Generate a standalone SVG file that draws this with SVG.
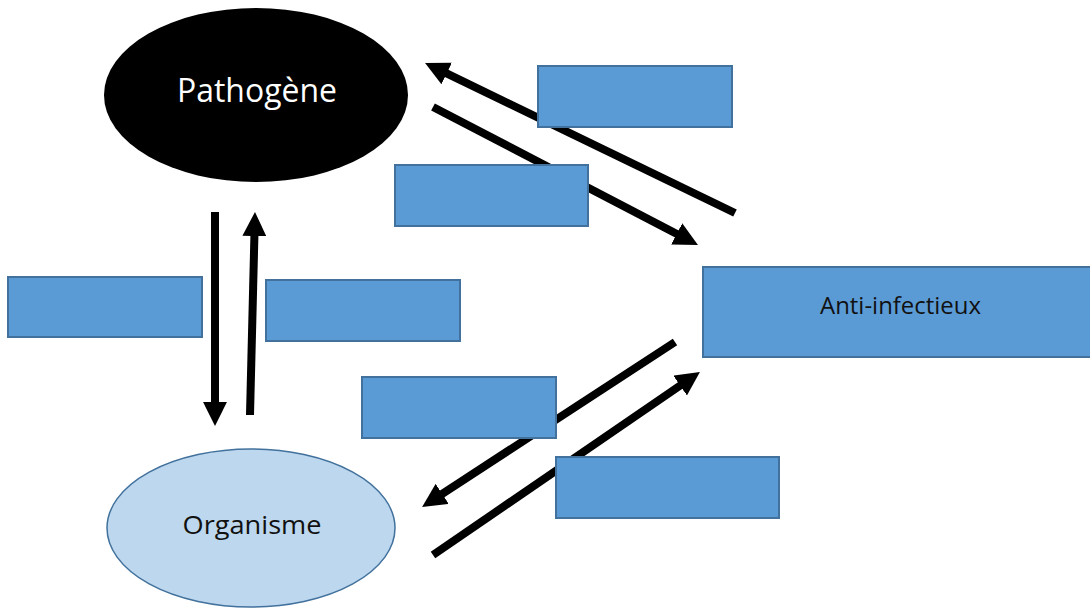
<svg xmlns="http://www.w3.org/2000/svg" width="1090" height="608" viewBox="0 0 1090 608">
<defs>
<marker id="ah" viewBox="0 0 10 10" refX="1.7" refY="5" markerWidth="3" markerHeight="3" orient="auto">
<path d="M0,0 L10,5 L0,10 z" fill="#000"/>
</marker>
</defs>
<style>
.lbl{font-family:"Open Sans","Noto Sans","Liberation Sans",sans-serif;text-anchor:middle}
.box{fill:#5B9BD5;stroke:#41719C;stroke-width:2}
.arr{stroke:#000;stroke-width:8;fill:none;stroke-linecap:butt;marker-end:url(#ah)}
</style>
<rect width="1090" height="608" fill="#fff"/>
<g id="connectors">
<line class="arr" x1="735" y1="213" x2="443" y2="71.7"/>
<line class="arr" x1="433" y1="107" x2="680.3" y2="235.8"/>
<line class="arr" x1="215" y1="212" x2="215" y2="406"/>
<line class="arr" x1="250" y1="415" x2="254.5" y2="232"/>
<line class="arr" x1="675" y1="342" x2="438.8" y2="496.1"/>
<line class="arr" x1="433" y1="555" x2="683.5" y2="383.3"/>
</g>
<g id="pathogene">
<ellipse cx="256" cy="95" rx="152" ry="87" fill="#000"/>
<text class="lbl" x="257" y="102" font-size="32" fill="#fff" textLength="160" lengthAdjust="spacingAndGlyphs">Pathogène</text>
</g>
<g id="organisme">
<ellipse cx="251" cy="528" rx="144" ry="79" fill="#BDD7EE" stroke="#41719C" stroke-width="1.5"/>
<text class="lbl" x="252" y="534" font-size="26" fill="#111" textLength="139" lengthAdjust="spacingAndGlyphs">Organisme</text>
</g>
<g id="anti-infectieux">
<rect class="box" x="703" y="267" width="400" height="90"/>
<text class="lbl" x="900.5" y="314" font-size="24" fill="#111" textLength="161" lengthAdjust="spacingAndGlyphs">Anti-infectieux</text>
</g>
<g id="box1"><rect class="box" x="538" y="66" width="194" height="61"/></g>
<g id="box2"><rect class="box" x="395" y="165" width="193" height="61"/></g>
<g id="box3"><rect class="box" x="8" y="277" width="194" height="60"/></g>
<g id="box4"><rect class="box" x="266" y="280" width="194" height="61"/></g>
<g id="box5"><rect class="box" x="362" y="377" width="194" height="61"/></g>
<g id="box6"><rect class="box" x="556" y="457" width="223" height="61"/></g>
</svg>
